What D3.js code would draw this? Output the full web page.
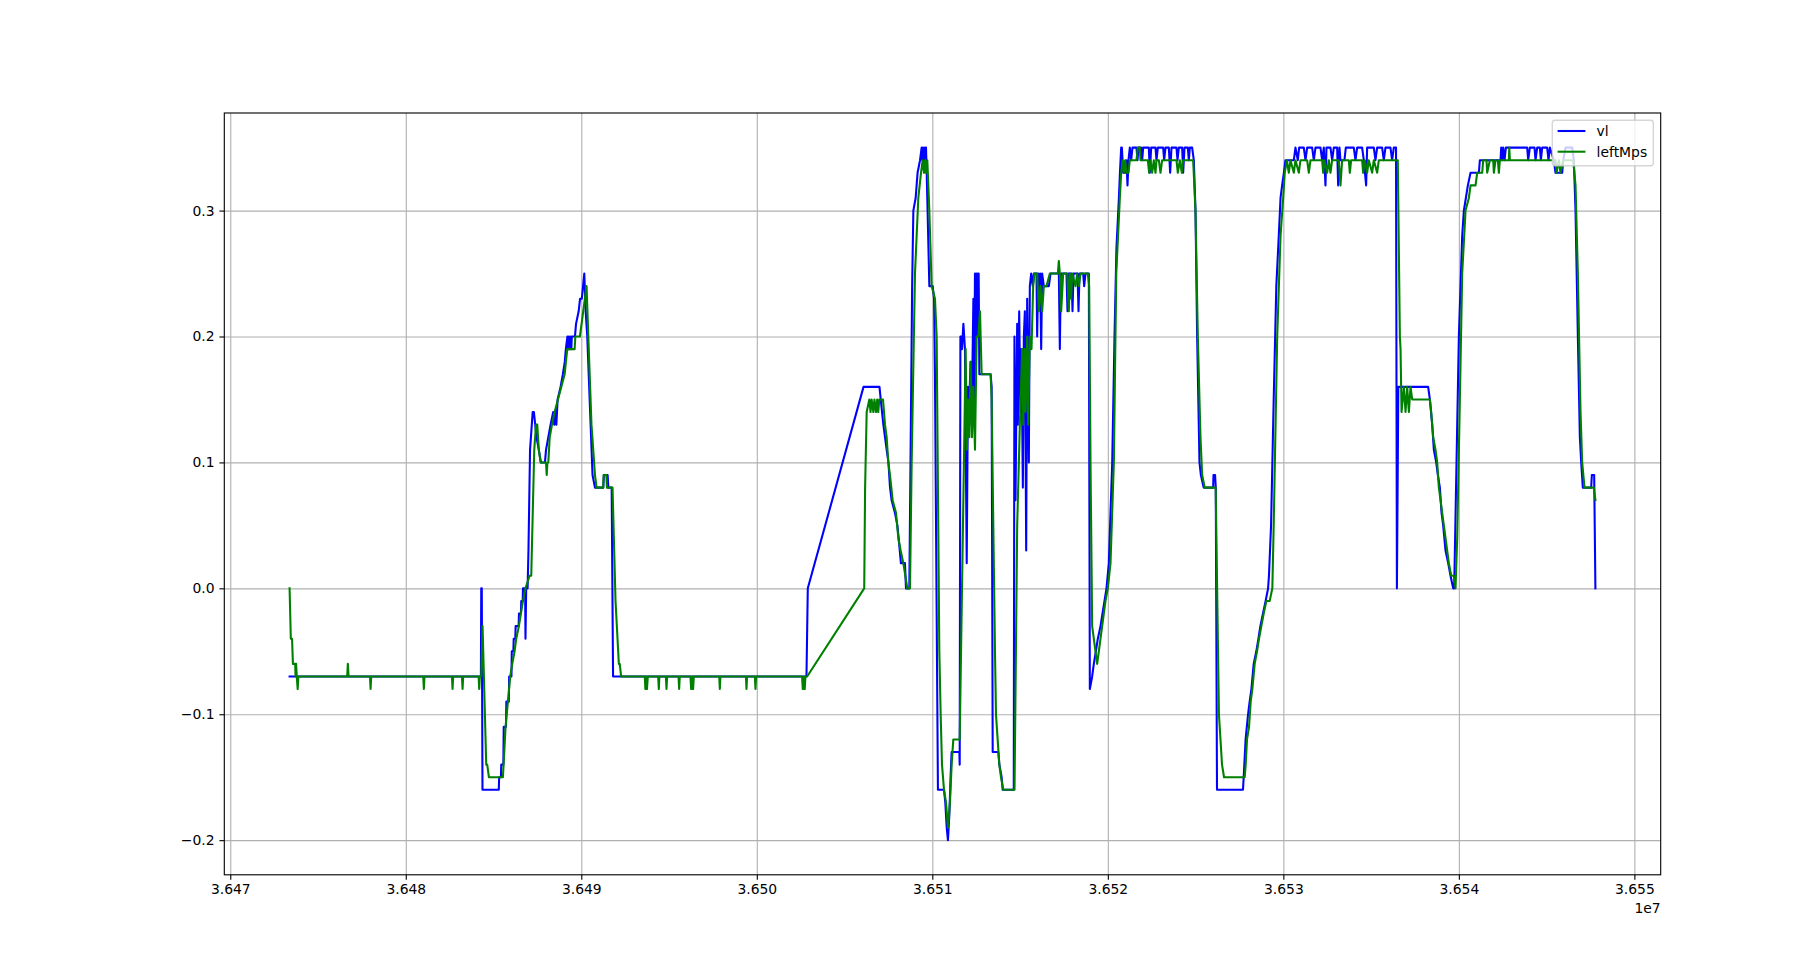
<!DOCTYPE html>
<html><head><meta charset="utf-8">
<script src="https://cdn.jsdelivr.net/npm/d3@7"></script>
<style>body{margin:0;background:#fff}svg text{font-family:"DejaVu Sans",sans-serif;}</style>
</head><body><svg id="c" width="1812" height="962"></svg>
<script>
const vlData = [
[36473380,-0.07],[36484280,-0.07],[36484300,0.0],[36484330,0.0],[36484370,-0.16],[36485300,-0.16],[36485320,-0.15],[36485420,-0.15],[36485440,-0.14],[36485560,-0.14],[36485580,-0.11],[36485710,-0.11],[36485730,-0.09],[36485870,-0.09],[36485890,-0.07],[36486020,-0.07],[36486040,-0.05],[36486130,-0.05],[36486150,-0.04],[36486240,-0.04],[36486260,-0.03],[36486430,-0.03],[36486450,-0.02],[36486560,-0.02],[36486580,-0.01],[36486660,-0.01],[36486680,0.0],[36486800,0.0],[36486820,-0.04],[36486860,0.0],[36486940,0.0],[36486990,0.03],[36487080,0.11],[36487230,0.14],[36487300,0.14],[36487450,0.12],[36487580,0.11],[36487700,0.10],[36487930,0.10],[36487990,0.11],[36488120,0.12],[36488250,0.13],[36488400,0.14],[36488460,0.13],[36488520,0.14],[36488580,0.13],[36488650,0.15],[36488820,0.16],[36488950,0.17],[36489060,0.18],[36489120,0.19],[36489210,0.20],[36489250,0.19],[36489290,0.20],[36489330,0.19],[36489370,0.20],[36489430,0.19],[36489460,0.20],[36489640,0.20],[36489700,0.21],[36489850,0.22],[36489930,0.23],[36490030,0.23],[36490170,0.25],[36490250,0.22],[36490340,0.20],[36490640,0.09],[36490780,0.08],[36491250,0.08],[36491290,0.09],[36491500,0.09],[36491540,0.08],[36491730,0.08],[36491810,-0.07],
[36502830,-0.07],[36502905,0.0],[36506080,0.16],[36506990,0.16],[36507060,0.15],[36507210,0.13],[36507400,0.11],[36507500,0.10],[36507590,0.08],[36507680,0.07],[36507870,0.06],[36508010,0.05],[36508080,0.04],[36508210,0.02],[36508440,0.02],[36508500,0.0],[36508690,0.0],[36508770,0.12],[36508850,0.24],[36508920,0.30],[36509050,0.31],[36509160,0.33],[36509300,0.34],[36509390,0.35],[36509430,0.34],[36509470,0.35],[36509530,0.34],[36509580,0.35],[36509640,0.35],[36509680,0.33],[36509830,0.24],[36510020,0.24],[36510100,0.23],[36510150,0.17],[36510320,-0.16],[36510665,-0.16],[36510740,-0.17],[36510820,-0.19],[36510890,-0.20],[36510970,-0.18],[36511040,-0.15],[36511100,-0.13],[36511540,-0.13],[36511560,-0.14],[36511600,0.20],[36511650,0.20],[36511690,0.19],[36511770,0.21],[36511860,0.19],[36511960,0.02],[36512030,0.16],[36512110,0.15],[36512180,0.18],[36512240,0.13],[36512340,0.23],[36512370,0.13],[36512430,0.25],[36512470,0.17],[36512510,0.25],[36512560,0.20],[36512600,0.25],[36512640,0.25],[36512680,0.17],[36513320,0.17],[36513380,0.16],[36513440,-0.13],[36513760,-0.13],[36513820,-0.14],[36513950,-0.15],[36514010,-0.16],[36514640,-0.16],
[36514680,0.20],[36514740,0.07],[36514835,0.21],[36514873,0.13],[36514949,0.22],[36515025,0.14],[36515082,0.19],[36515158,0.08],[36515215,0.20],[36515272,0.22],[36515348,0.03],[36515404,0.23],[36515499,0.10],[36515556,0.24],[36515632,0.25],[36515727,0.24],[36515784,0.25],[36515936,0.25],[36515974,0.20],[36516031,0.25],[36516088,0.23],[36516145,0.25],[36516202,0.19],[36516259,0.25],[36516354,0.24],[36516639,0.24],[36516734,0.25],[36517209,0.25],[36517265,0.19],[36517322,0.25],[36517645,0.25],[36517702,0.22],[36517759,0.25],[36517930,0.25],[36517987,0.22],[36518044,0.25],[36518272,0.25],[36518329,0.22],[36518386,0.25],[36518595,0.25],[36518652,0.24],[36518728,0.25],[36518918,0.25],[36518975,-0.08],[36519107,-0.07],[36519202,-0.06],[36519316,-0.05],[36519430,-0.04],[36519582,-0.03],[36519696,-0.02],[36519810,-0.01],[36519924,0.0],[36520057,0.02],[36520152,0.06],[36520250,0.10],[36520380,0.20],[36520490,0.27],[36520560,0.29],[36520630,0.31],[36520690,0.33],[36520760,0.35],
[36520800,0.35],[36520874,0.33],[36521006,0.33],[36521063,0.34],[36521120,0.32],[36521177,0.34],[36521253,0.35],[36521329,0.34],[36521405,0.35],[36521633,0.35],[36521690,0.34],[36521747,0.35],[36521899,0.35],[36521956,0.34],[36522013,0.35],[36522336,0.35],[36522393,0.33],[36522469,0.35],[36522716,0.35],[36522773,0.34],[36522849,0.35],[36523152,0.35],[36523209,0.34],[36523285,0.35],[36523475,0.35],[36523551,0.33],[36523627,0.35],[36523912,0.35],[36523969,0.34],[36524045,0.35],[36524235,0.35],[36524292,0.33],[36524368,0.35],[36524558,0.35],[36524615,0.34],[36524672,0.35],[36524804,0.35],[36524899,0.34],[36524994,0.30],[36525089,0.20],[36525222,0.10],[36525300,0.09],[36525460,0.08],[36526000,0.08],[36526020,0.09],[36526110,0.09],[36526150,0.08],[36526220,-0.16],[36527700,-0.16],[36527740,-0.15],[36527850,-0.12],[36527990,-0.10],[36528080,-0.09],[36528180,-0.08],[36528310,-0.06],[36528460,-0.05],[36528580,-0.04],[36528690,-0.03],[36528840,-0.02],[36528990,-0.01],[36529130,0.0],[36529180,0.01],[36529300,0.05],[36529450,0.15],[36529600,0.24],[36529740,0.28],[36529840,0.31],[36529930,0.32],[36530030,0.33],[36530120,0.34],
[36530596,0.34],[36530691,0.35],[36530824,0.34],[36530900,0.35],[36531166,0.35],[36531261,0.34],[36531356,0.35],[36531641,0.35],[36531736,0.34],[36531831,0.35],[36532115,0.35],[36532210,0.34],[36532305,0.35],[36532400,0.32],[36532457,0.35],[36532685,0.35],[36532780,0.34],[36532875,0.35],[36533065,0.35],[36533122,0.32],[36533198,0.35],[36533255,0.34],[36533483,0.34],[36533559,0.35],[36534014,0.35],[36534109,0.34],[36534204,0.35],[36534489,0.35],[36534584,0.34],[36534717,0.32],[36534774,0.35],[36535154,0.35],[36535249,0.34],[36535344,0.35],[36535629,0.35],[36535723,0.34],[36535818,0.35],[36536103,0.35],[36536198,0.34],[36536293,0.35],[36536420,0.35],[36536470,0.0],[36536550,0.16],[36538250,0.16],[36538348,0.15],[36538481,0.13],[36538576,0.11],[36538709,0.10],[36538804,0.09],[36538918,0.08],[36539013,0.06],[36539107,0.05],[36539240,0.03],[36539392,0.02],[36539525,0.01],[36539677,0.0],[36539734,0.0],[36539867,0.10],[36540000,0.20],[36540190,0.28],[36540285,0.30],[36540399,0.31],[36540513,0.32],[36540665,0.33],[36541140,0.33],[36541196,0.34],[36542374,0.34],[36542412,0.35],[36542469,0.34],[36542526,0.35],[36542602,0.34],[36542678,0.35],[36543893,0.35],[36543950,0.34],[36544045,0.35],[36544311,0.35],[36544368,0.34],[36544463,0.35],[36544615,0.35],[36544672,0.34],[36544748,0.35],[36545032,0.35],[36545108,0.34],[36545184,0.35],[36545412,0.34],[36545507,0.33],[36545887,0.33],[36545944,0.34],[36546077,0.35],[36546457,0.35],[36546552,0.34],[36546647,0.30],[36546780,0.20],[36546894,0.12],[36546970,0.10],[36547064,0.08],[36547539,0.08],[36547577,0.09],[36547710,0.09],[36547780,0.0]
];
const leftMpsData = [
[36473380,0.0],[36473450,-0.04],[36473520,-0.04],[36473570,-0.06],[36473700,-0.06],[36473720,-0.07],[36473750,-0.06],[36473790,-0.07],[36473840,-0.08],[36473880,-0.07],[36476660,-0.07],[36476700,-0.06],[36476740,-0.07],[36477960,-0.07],[36477995,-0.08],[36478030,-0.07],[36480995,-0.07],[36481030,-0.08],[36481065,-0.07],[36482630,-0.07],[36482665,-0.08],[36482700,-0.07],[36483200,-0.07],[36483235,-0.08],[36483270,-0.07],[36484150,-0.07],[36484185,-0.08],[36484220,-0.07],[36484300,-0.07],[36484375,-0.03],[36484584,-0.14],[36484640,-0.14],[36484736,-0.15],[36485534,-0.15],[36485572,-0.14],[36485686,-0.11],[36485819,-0.09],[36485952,-0.07],[36486066,-0.06],[36486199,-0.05],[36486294,-0.04],[36486445,-0.03],[36486673,-0.01],[36486825,0.0],[36487053,0.01],[36487148,0.01],[36487320,0.11],[36487420,0.13],[36487490,0.13],[36487580,0.11],[36487680,0.10],[36487990,0.10],[36488030,0.09],[36488070,0.10],[36488120,0.10],[36488200,0.12],[36488330,0.13],[36488480,0.14],[36488670,0.15],[36488860,0.16],[36489050,0.17],[36489200,0.19],[36489620,0.19],[36489660,0.20],[36489920,0.20],[36490110,0.22],[36490300,0.24],[36490400,0.20],[36490580,0.13],[36490780,0.09],[36490870,0.08],[36491250,0.08],[36491270,0.09],[36491430,0.09],[36491460,0.08],[36491780,0.08],[36491950,-0.01],[36492140,-0.06],[36492190,-0.06],[36492270,-0.07],
[36493620,-0.07],[36493650,-0.08],[36493700,-0.07],[36493740,-0.08],[36493790,-0.07],[36494380,-0.07],[36494417,-0.08],[36494450,-0.07],[36494820,-0.07],[36494854,-0.08],[36494890,-0.07],[36495540,-0.07],[36495575,-0.08],[36495610,-0.07],[36496220,-0.07],[36496260,-0.08],[36496320,-0.07],[36496370,-0.08],[36496410,-0.07],[36497860,-0.07],[36497892,-0.08],[36497925,-0.07],[36499380,-0.07],[36499411,-0.08],[36499445,-0.07],[36499890,-0.07],[36499924,-0.08],[36499960,-0.07],[36502580,-0.07],[36502620,-0.08],[36502680,-0.07],[36502730,-0.08],[36502770,-0.07],[36502868,-0.07],
[36506120,0.0],[36506170,0.08],[36506260,0.14],[36506411,0.15],[36506480,0.14],[36506540,0.15],[36506640,0.14],[36506700,0.15],[36506790,0.14],[36506860,0.15],[36506920,0.14],[36506980,0.15],[36507190,0.15],[36507304,0.13],[36507398,0.12],[36507493,0.10],[36507588,0.09],[36507740,0.07],[36507930,0.06],[36508063,0.04],[36508196,0.03],[36508348,0.02],[36508576,0.0],[36508728,0.0],[36508823,0.10],[36509012,0.25],[36509202,0.31],[36509354,0.33],[36509449,0.34],[36509525,0.33],[36509582,0.34],[36509639,0.33],[36509715,0.34],[36509829,0.30],[36509962,0.24],[36510152,0.23],[36510247,0.20],[36510399,-0.05],[36510475,-0.10],[36510551,-0.14],[36510665,-0.16],[36510779,-0.17],[36510893,-0.19],[36511006,-0.17],[36511101,-0.14],[36511196,-0.12],[36511560,-0.12],[36511899,0.19],[36511975,0.11],[36512032,0.15],[36512108,0.12],[36512184,0.18],[36512260,0.12],[36512336,0.16],[36512431,0.11],[36512526,0.20],[36512621,0.20],[36512716,0.22],[36512811,0.17],[36513323,0.17],[36513380,0.15],[36513475,0.05],[36513570,-0.05],[36513627,-0.10],[36513722,-0.12],[36513817,-0.14],[36513912,-0.15],[36514045,-0.16],[36514683,-0.16],
[36514835,0.05],[36514987,0.13],[36515120,0.19],[36515177,0.13],[36515253,0.19],[36515310,0.14],[36515404,0.20],[36515461,0.13],[36515556,0.20],[36515651,0.19],[36515746,0.24],[36515822,0.25],[36515974,0.25],[36516069,0.22],[36516164,0.24],[36516259,0.22],[36516354,0.24],[36516506,0.24],[36516696,0.25],[36517152,0.25],[36517209,0.26],[36517265,0.25],[36517341,0.22],[36517455,0.25],[36517683,0.25],[36517778,0.22],[36517835,0.25],[36517911,0.23],[36517968,0.25],[36518158,0.24],[36518253,0.25],[36518348,0.24],[36518443,0.25],[36518861,0.25],[36518937,0.24],[36519013,0.10],[36519107,-0.03],[36519297,-0.05],[36519392,-0.06],[36519487,-0.05],[36519582,-0.04],[36519677,-0.03],[36519772,-0.02],[36519867,-0.01],[36520000,0.0],[36520152,0.02],[36520342,0.10],[36520480,0.25],[36520684,0.31],[36520760,0.33],
[36520836,0.34],[36520912,0.33],[36520988,0.34],[36521063,0.33],[36521177,0.33],[36521253,0.34],[36521633,0.34],[36521709,0.35],[36521823,0.35],[36521861,0.34],[36522279,0.34],[36522355,0.33],[36522431,0.34],[36522526,0.33],[36522621,0.34],[36522716,0.33],[36522773,0.34],[36522906,0.34],[36523000,0.33],[36523095,0.34],[36523912,0.34],[36523988,0.33],[36524102,0.34],[36524216,0.33],[36524292,0.34],[36524861,0.34],[36524994,0.30],[36525127,0.20],[36525279,0.12],[36525374,0.09],[36525520,0.08],[36526145,0.08],[36526330,-0.10],[36526506,-0.14],[36526620,-0.15],[36527797,-0.15],[36527854,-0.14],[36527930,-0.12],[36528044,-0.11],[36528139,-0.09],[36528234,-0.08],[36528367,-0.06],[36528500,-0.05],[36528614,-0.04],[36528747,-0.03],[36528880,-0.02],[36529032,-0.01],[36529221,-0.01],[36529373,0.0],[36529450,0.05],[36529650,0.20],[36529840,0.28],[36529990,0.31],[36530080,0.33],[36530200,0.34],
[36530312,0.33],[36530407,0.34],[36530596,0.33],[36530691,0.34],[36530881,0.33],[36530976,0.34],[36531356,0.34],[36531451,0.33],[36531546,0.34],[36532211,0.34],[36532268,0.33],[36532344,0.34],[36532495,0.33],[36532590,0.34],[36532685,0.33],[36532780,0.34],[36533160,0.34],[36533255,0.32],[36533350,0.34],[36533730,0.34],[36533787,0.33],[36533863,0.34],[36534489,0.34],[36534546,0.33],[36534641,0.34],[36534774,0.33],[36534869,0.34],[36535059,0.33],[36535154,0.34],[36535344,0.33],[36535439,0.34],[36536520,0.34],[36536639,0.20],[36536677,0.19],[36536734,0.14],[36536867,0.16],[36536962,0.14],[36537057,0.16],[36537152,0.14],[36537247,0.16],[36537341,0.15],[36538348,0.15],[36538424,0.14],[36538538,0.12],[36538671,0.11],[36538766,0.10],[36538861,0.08],[36538956,0.07],[36539050,0.06],[36539145,0.05],[36539240,0.04],[36539335,0.03],[36539430,0.02],[36539563,0.01],[36539715,0.01],[36539810,0.0],[36539905,0.04],[36540057,0.15],[36540190,0.25],[36540380,0.30],[36540570,0.31],[36540665,0.32],[36540950,0.32],[36541045,0.33],[36541329,0.33],[36541386,0.34],[36541576,0.34],[36541614,0.33],[36541766,0.34],[36541956,0.34],[36541994,0.33],[36542089,0.34],[36542222,0.34],[36542279,0.33],[36542336,0.34],[36542849,0.34],[36542870,0.35],[36542910,0.34],[36545507,0.34],[36545564,0.33],[36545700,0.34],[36545790,0.33],[36545944,0.34],[36546514,0.34],[36546647,0.32],[36546780,0.25],[36546932,0.14],[36547026,0.10],[36547159,0.08],[36547691,0.08],[36547780,0.07]
];
const xTicks = [36470000,36480000,36490000,36500000,36510000,36520000,36530000,36540000,36550000];
const xTickLabels = ["3.647","3.648","3.649","3.650","3.651","3.652","3.653","3.654","3.655"];
const yTicks = [-0.2,-0.1,0.0,0.1,0.2,0.3];
const yTickLabels = ["\u22120.2","\u22120.1","0.0","0.1","0.2","0.3"];
const xOffsetLabel = "1e7";
const seriesNames = ["vl","leftMps"];
const seriesColors = ["#0000ff","#008000"];

const L = 224.3, R = 1660.7, T = 113, B = 874.8;
const FS = 13.9;
const svg = d3.select("#c");
const series = [vlData, leftMpsData];
const all = vlData.concat(leftMpsData);
const [x0, x1] = d3.extent(all, d => d[0]);
const [y0, y1] = d3.extent(all, d => d[1]);
const mx = (x1 - x0) * 0.05, my = (y1 - y0) * 0.05;
const x = d3.scaleLinear().domain([x0 - mx, x1 + mx]).range([L, R]);
const y = d3.scaleLinear().domain([y0 - my, y1 + my]).range([B, T]);

// grid
const gx = svg.append("g").attr("transform", `translate(0,${B})`)
  .call(d3.axisBottom(x).tickValues(xTicks).tickSize(-(B - T)).tickFormat(""));
gx.select(".domain").remove();
gx.selectAll("line").attr("stroke", "#b0b0b0").attr("stroke-width", 1.11);
const gy = svg.append("g").attr("transform", `translate(${L},0)`)
  .call(d3.axisLeft(y).tickValues(yTicks).tickSize(-(R - L)).tickFormat(""));
gy.select(".domain").remove();
gy.selectAll("line").attr("stroke", "#b0b0b0").attr("stroke-width", 1.11);

// lines
const line = d3.line().x(d => x(d[0])).y(d => y(d[1]));
series.forEach((s, i) => {
  svg.append("path").datum(s).attr("d", line)
    .attr("fill", "none").attr("stroke", seriesColors[i])
    .attr("stroke-width", 2.08).attr("stroke-linejoin", "round").attr("stroke-linecap", "square");
});

// spines
svg.append("rect").attr("x", L).attr("y", T).attr("width", R - L).attr("height", B - T)
  .attr("fill", "none").attr("stroke", "#000").attr("stroke-width", 1.11);

// axes
const ax = svg.append("g").attr("transform", `translate(0,${B})`)
  .call(d3.axisBottom(x).tickValues(xTicks).tickSize(4.86).tickPadding(4.86)
    .tickFormat((d, i) => xTickLabels[i]));
ax.select(".domain").remove();
ax.selectAll("line").attr("stroke", "#000").attr("stroke-width", 1.11);
ax.selectAll("text").attr("font-size", FS).attr("font-family", "DejaVu Sans").attr("fill", "#000");
const ay = svg.append("g").attr("transform", `translate(${L},0)`)
  .call(d3.axisLeft(y).tickValues(yTicks).tickSize(4.86).tickPadding(4.86)
    .tickFormat((d, i) => yTickLabels[i]));
ay.select(".domain").remove();
ay.selectAll("line").attr("stroke", "#000").attr("stroke-width", 1.11);
ay.selectAll("text").attr("font-size", FS).attr("font-family", "DejaVu Sans").attr("fill", "#000");

svg.append("text").attr("x", R).attr("y", B + 38.5).attr("text-anchor", "end")
  .attr("font-size", FS).attr("font-family", "DejaVu Sans").text(xOffsetLabel);

// legend
const lg = svg.append("g");
const lgX = 1552.3, lgY = 120.2, lgW = 101, lgH = 45.5;
lg.append("rect").attr("x", lgX).attr("y", lgY).attr("width", lgW).attr("height", lgH)
  .attr("rx", 2.8).attr("fill", "#fff").attr("fill-opacity", 0.8)
  .attr("stroke", "#cccccc").attr("stroke-opacity", 0.8).attr("stroke-width", 1.39);
seriesNames.forEach((n, i) => {
  const cy = lgY + 10.8 + i * 20.7;
  lg.append("line").attr("x1", lgX + 5.3).attr("x2", lgX + 33.1).attr("y1", cy).attr("y2", cy)
    .attr("stroke", seriesColors[i]).attr("stroke-width", 2.08);
  lg.append("text").attr("x", lgX + 44.3).attr("y", cy + 4.9)
    .attr("font-size", FS).attr("font-family", "DejaVu Sans").text(n);
});
</script></body></html>
